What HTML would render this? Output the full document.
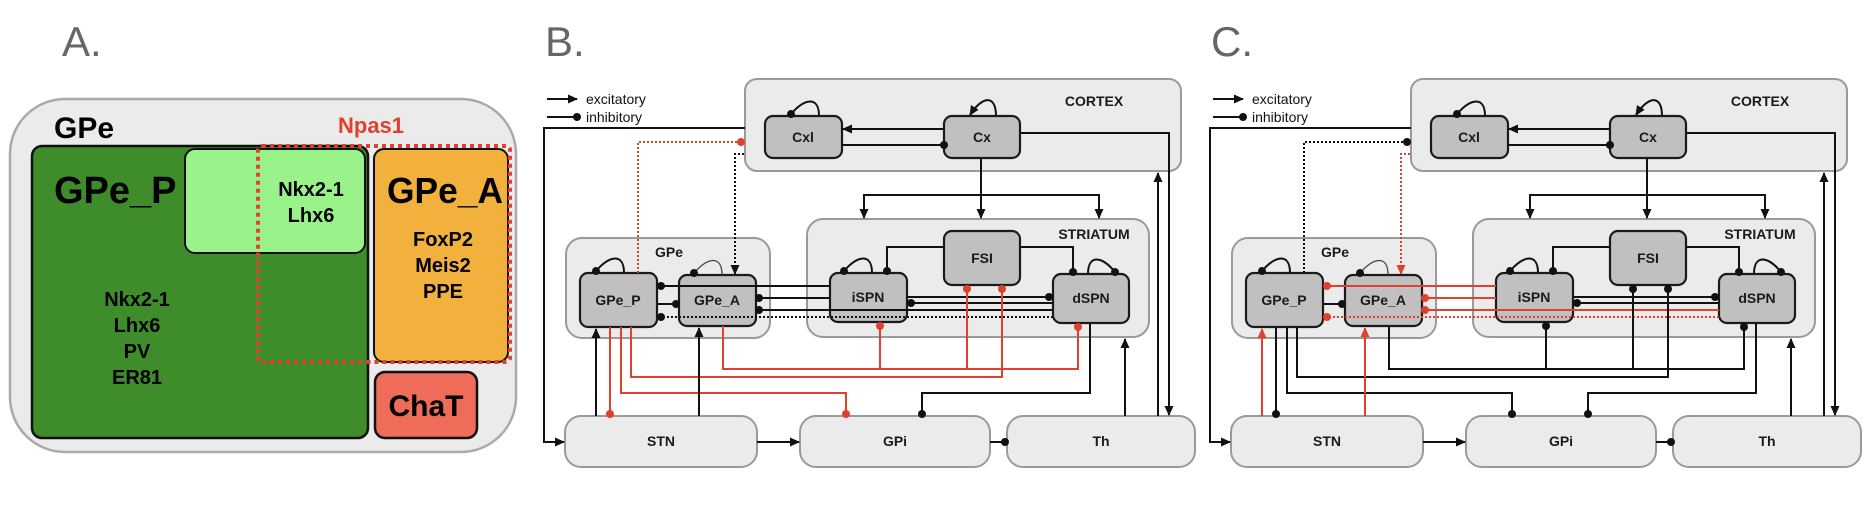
<!DOCTYPE html>
<html><head><meta charset="utf-8">
<style>
html,body{margin:0;padding:0;background:#fff;}
svg{display:block;}
text{font-family:"Liberation Sans",Arial,sans-serif;}
.cont{fill:#ebebeb;stroke:#9a9a9a;stroke-width:2;}
.node{fill:#c0c0c0;stroke:#1a1a1a;stroke-width:2.2;}
.nt{font-weight:bold;font-size:14px;fill:#1a1a1a;text-anchor:middle;}
.k{fill:none;stroke:#111;stroke-width:2;}
.r{fill:none;stroke:#e0402e;stroke-width:2;}
.dot{stroke-dasharray:2 2;}
.g{fill:none;stroke:#444;stroke-width:1.3;}
</style></head><body>
<svg width="1864" height="524" viewBox="0 0 1864 524" xmlns="http://www.w3.org/2000/svg">
<defs>
<marker id="ak" markerUnits="userSpaceOnUse" markerWidth="10" markerHeight="10" refX="9" refY="5" orient="auto"><path d="M0,0.5 L10,5 L0,9.5 z" fill="#111"/></marker>
<marker id="ar" markerUnits="userSpaceOnUse" markerWidth="10" markerHeight="10" refX="9" refY="5" orient="auto"><path d="M0,0.5 L10,5 L0,9.5 z" fill="#e0402e"/></marker>
<marker id="dk" markerUnits="userSpaceOnUse" markerWidth="10" markerHeight="10" refX="5" refY="5" orient="auto"><circle cx="5" cy="5" r="4" fill="#111"/></marker>
<marker id="dr" markerUnits="userSpaceOnUse" markerWidth="10" markerHeight="10" refX="5" refY="5" orient="auto"><circle cx="5" cy="5" r="4" fill="#e0402e"/></marker>
</defs>

<!-- Panel A -->
<text x="62" y="56" font-size="42" fill="#666">A.</text>
<rect x="10" y="99" width="506" height="353" rx="55" fill="#ebebeb" stroke="#aaa" stroke-width="2.5"/>
<text x="54" y="138" font-size="30" font-weight="bold" fill="#000">GPe</text>
<text x="338" y="133" font-size="22" font-weight="bold" fill="#e0402e">Npas1</text>
<rect x="32" y="146" width="336" height="292" rx="10" fill="#3f8c2a" stroke="#111" stroke-width="2.5"/>
<rect x="185" y="149" width="180" height="104" rx="10" fill="#9af38a" stroke="#111" stroke-width="2"/>
<rect x="374" y="149" width="134" height="213" rx="10" fill="#f2b03c" stroke="#111" stroke-width="2"/>
<rect x="375" y="372" width="102" height="66" rx="10" fill="#ee6c58" stroke="#111" stroke-width="2.5"/>
<rect x="258" y="146" width="252" height="216" rx="4" fill="none" stroke="#e0402e" stroke-width="4" stroke-dasharray="4 4"/>
<text x="54" y="203" font-size="38" font-weight="bold" fill="#000">GPe_P</text>
<text x="387" y="203" font-size="36" font-weight="bold" fill="#000" textLength="116" lengthAdjust="spacingAndGlyphs">GPe_A</text>
<g font-size="20" font-weight="bold" fill="#000" text-anchor="middle">
<text x="311" y="196">Nkx2-1</text><text x="311" y="222">Lhx6</text>
<text x="137" y="306">Nkx2-1</text><text x="137" y="332">Lhx6</text><text x="137" y="358">PV</text><text x="137" y="384">ER81</text>
<text x="443" y="246">FoxP2</text><text x="443" y="272">Meis2</text><text x="443" y="298">PPE</text>
</g>
<text x="426" y="416" font-size="30" font-weight="bold" fill="#000" text-anchor="middle">ChaT</text>

<text x="545" y="56" font-size="42" fill="#666">B.</text>
<text x="1211" y="56" font-size="42" fill="#666">C.</text>

<!-- Panel B -->
<g id="B">
<path class="k" d="M547,99 H577" marker-end="url(#ak)"/>
<path class="k" d="M547,117 H577" marker-end="url(#dk)"/>
<text x="586" y="104" font-size="14" fill="#111">excitatory</text>
<text x="586" y="122" font-size="14" fill="#111">inhibitory</text>
<rect class="cont" x="745" y="79" width="436" height="92" rx="12"/>
<text x="1094" y="106" class="nt" font-size="13">CORTEX</text>
<rect class="cont" x="807" y="219" width="342" height="118" rx="16"/>
<text x="1094" y="239" class="nt" font-size="13">STRIATUM</text>
<rect class="cont" x="566" y="238" width="204" height="100" rx="16"/>
<text x="669" y="257" class="nt" font-size="13">GPe</text>
<rect class="node" x="765" y="116" width="77" height="42" rx="8"/><text class="nt" x="803" y="142">Cxl</text>
<rect class="node" x="944" y="116" width="76" height="42" rx="8"/><text class="nt" x="982" y="142">Cx</text>
<rect class="node" x="944" y="231" width="76" height="54" rx="8"/><text class="nt" x="982" y="263">FSI</text>
<rect class="node" x="830" y="273" width="77" height="49" rx="8"/><text class="nt" x="868" y="302">iSPN</text>
<rect class="node" x="1053" y="274" width="76" height="49" rx="8"/><text class="nt" x="1091" y="303">dSPN</text>
<rect class="node" x="580" y="273" width="77" height="54" rx="8"/><text class="nt" x="618" y="305">GPe_P</text>
<rect class="node" x="679" y="275" width="77" height="51" rx="8"/><text class="nt" x="717" y="305">GPe_A</text>
<rect class="cont" x="565" y="416" width="192" height="51" rx="16"/><text class="nt" x="661" y="446" font-size="13">STN</text>
<rect class="cont" x="800" y="416" width="190" height="51" rx="16"/><text class="nt" x="895" y="446" font-size="13">GPi</text>
<rect class="cont" x="1007" y="416" width="188" height="51" rx="16"/><text class="nt" x="1101" y="446" font-size="13">Th</text>

<path class="k" d="M745,128 H544 V442 H564" marker-end="url(#ak)"/>
<path class="r dot" d="M638,273 V142 H741" marker-end="url(#dr)"/>
<path class="k dot" d="M744,154 H735 V274" marker-end="url(#ak)"/>
<path class="k" d="M944,129 H843" marker-end="url(#ak)"/>
<path class="k" d="M842,145 H944" marker-end="url(#dk)"/>
<path class="k" d="M819,116 C819,96 805,98 791,114" marker-end="url(#dk)"/>
<path class="k" d="M996,116 C996,94 982,96 970,115" marker-end="url(#ak)"/>
<path class="k" d="M981,158 V218" marker-end="url(#ak)"/>
<path class="k" d="M981,195 H864 V218" marker-end="url(#ak)"/>
<path class="k" d="M981,195 H1099 V218" marker-end="url(#ak)"/>
<path class="k" d="M944,247 H887 V271" marker-end="url(#dk)"/>
<path class="k" d="M1020,247 H1073 V272" marker-end="url(#dk)"/>
<path class="k" d="M872,273 C872,253 858,255 844,271" marker-end="url(#dk)"/>
<path class="k" d="M1088,274 C1088,254 1102,256 1115,272" marker-end="url(#dk)"/>
<path class="k" d="M624,273 C624,253 610,255 596,271" marker-end="url(#dk)"/>
<path class="g" d="M722,275 C722,255 708,257 694,273" marker-end="url(#dk)"/>
<path class="k" d="M830,286 H661" marker-end="url(#dk)"/>
<path class="k" d="M657,304 H676" marker-end="url(#dk)"/>
<path class="k" d="M830,298 H759" marker-end="url(#dk)"/>
<path class="k" d="M1053,310 H759" marker-end="url(#dk)"/>
<path class="k dot" d="M1053,317 H661" marker-end="url(#dk)"/>
<path class="k" d="M907,297 H1049" marker-end="url(#dk)"/>
<path class="k" d="M1053,303 H911" marker-end="url(#dk)"/>
<path class="r" d="M723,326 V369 H1078 V327" marker-end="url(#dr)"/>
<path class="r" d="M880,369 V326" marker-end="url(#dr)"/>
<path class="r" d="M967,369 V289" marker-end="url(#dr)"/>
<path class="r" d="M631,327 V377 H1002 V289" marker-end="url(#dr)"/>
<path class="r" d="M621,327 V393 H846 V414" marker-end="url(#dr)"/>
<path class="r" d="M610,327 V414" marker-end="url(#dr)"/>
<path class="k" d="M596,416 V329" marker-end="url(#ak)"/>
<path class="k" d="M699,416 V328" marker-end="url(#ak)"/>
<path class="k" d="M1090,323 V393 H922 V414" marker-end="url(#dk)"/>
<path class="k" d="M1125,416 V339" marker-end="url(#ak)"/>
<path class="k" d="M1158,416 V173" marker-end="url(#ak)"/>
<path class="k" d="M1020,133 H1169 V415" marker-end="url(#ak)"/>
<path class="k" d="M757,442 H799" marker-end="url(#ak)"/>
<path class="k" d="M990,442 H1005" marker-end="url(#dk)"/>
</g>

<!-- Panel C -->
<g transform="translate(666,0)">
<path class="k" d="M547,99 H577" marker-end="url(#ak)"/>
<path class="k" d="M547,117 H577" marker-end="url(#dk)"/>
<text x="586" y="104" font-size="14" fill="#111">excitatory</text>
<text x="586" y="122" font-size="14" fill="#111">inhibitory</text>
<rect class="cont" x="745" y="79" width="436" height="92" rx="12"/>
<text x="1094" y="106" class="nt" font-size="13">CORTEX</text>
<rect class="cont" x="807" y="219" width="342" height="118" rx="16"/>
<text x="1094" y="239" class="nt" font-size="13">STRIATUM</text>
<rect class="cont" x="566" y="238" width="204" height="100" rx="16"/>
<text x="669" y="257" class="nt" font-size="13">GPe</text>
<rect class="node" x="765" y="116" width="77" height="42" rx="8"/><text class="nt" x="803" y="142">Cxl</text>
<rect class="node" x="944" y="116" width="76" height="42" rx="8"/><text class="nt" x="982" y="142">Cx</text>
<rect class="node" x="944" y="231" width="76" height="54" rx="8"/><text class="nt" x="982" y="263">FSI</text>
<rect class="node" x="830" y="273" width="77" height="49" rx="8"/><text class="nt" x="868" y="302">iSPN</text>
<rect class="node" x="1053" y="274" width="76" height="49" rx="8"/><text class="nt" x="1091" y="303">dSPN</text>
<rect class="node" x="580" y="273" width="77" height="54" rx="8"/><text class="nt" x="618" y="305">GPe_P</text>
<rect class="node" x="679" y="275" width="77" height="51" rx="8"/><text class="nt" x="717" y="305">GPe_A</text>
<rect class="cont" x="565" y="416" width="192" height="51" rx="16"/><text class="nt" x="661" y="446" font-size="13">STN</text>
<rect class="cont" x="800" y="416" width="190" height="51" rx="16"/><text class="nt" x="895" y="446" font-size="13">GPi</text>
<rect class="cont" x="1007" y="416" width="188" height="51" rx="16"/><text class="nt" x="1101" y="446" font-size="13">Th</text>

<path class="k" d="M745,128 H544 V442 H564" marker-end="url(#ak)"/>
<path class="k dot" d="M638,273 V142 H741" marker-end="url(#dk)"/>
<path class="r dot" d="M744,154 H735 V274" marker-end="url(#ar)"/>
<path class="k" d="M944,129 H843" marker-end="url(#ak)"/>
<path class="k" d="M842,145 H944" marker-end="url(#dk)"/>
<path class="k" d="M819,116 C819,96 805,98 791,114" marker-end="url(#dk)"/>
<path class="k" d="M996,116 C996,94 982,96 970,115" marker-end="url(#ak)"/>
<path class="k" d="M981,158 V218" marker-end="url(#ak)"/>
<path class="k" d="M981,195 H864 V218" marker-end="url(#ak)"/>
<path class="k" d="M981,195 H1099 V218" marker-end="url(#ak)"/>
<path class="k" d="M944,247 H887 V271" marker-end="url(#dk)"/>
<path class="k" d="M1020,247 H1073 V272" marker-end="url(#dk)"/>
<path class="k" d="M872,273 C872,253 858,255 844,271" marker-end="url(#dk)"/>
<path class="k" d="M1088,274 C1088,254 1102,256 1115,272" marker-end="url(#dk)"/>
<path class="k" d="M624,273 C624,253 610,255 596,271" marker-end="url(#dk)"/>
<path class="g" d="M722,275 C722,255 708,257 694,273" marker-end="url(#dk)"/>
<path class="r" d="M830,286 H661" marker-end="url(#dr)"/>
<path class="k" d="M657,304 H676" marker-end="url(#dk)"/>
<path class="r" d="M830,298 H759" marker-end="url(#dr)"/>
<path class="r" d="M1053,310 H759" marker-end="url(#dr)"/>
<path class="r dot" d="M1053,317 H661" marker-end="url(#dr)"/>
<path class="k" d="M907,297 H1049" marker-end="url(#dk)"/>
<path class="k" d="M1053,303 H911" marker-end="url(#dk)"/>
<path class="k" d="M723,326 V369 H1078 V327" marker-end="url(#dk)"/>
<path class="k" d="M880,369 V326" marker-end="url(#dk)"/>
<path class="k" d="M967,369 V289" marker-end="url(#dk)"/>
<path class="k" d="M631,327 V377 H1002 V289" marker-end="url(#dk)"/>
<path class="k" d="M621,327 V393 H846 V414" marker-end="url(#dk)"/>
<path class="k" d="M610,327 V414" marker-end="url(#dk)"/>
<path class="r" d="M596,416 V329" marker-end="url(#ar)"/>
<path class="r" d="M699,416 V328" marker-end="url(#ar)"/>
<path class="k" d="M1090,323 V393 H922 V414" marker-end="url(#dk)"/>
<path class="k" d="M1125,416 V339" marker-end="url(#ak)"/>
<path class="k" d="M1158,416 V173" marker-end="url(#ak)"/>
<path class="k" d="M1020,133 H1169 V415" marker-end="url(#ak)"/>
<path class="k" d="M757,442 H799" marker-end="url(#ak)"/>
<path class="k" d="M990,442 H1005" marker-end="url(#dk)"/>
</g>
</svg>
</body></html>
